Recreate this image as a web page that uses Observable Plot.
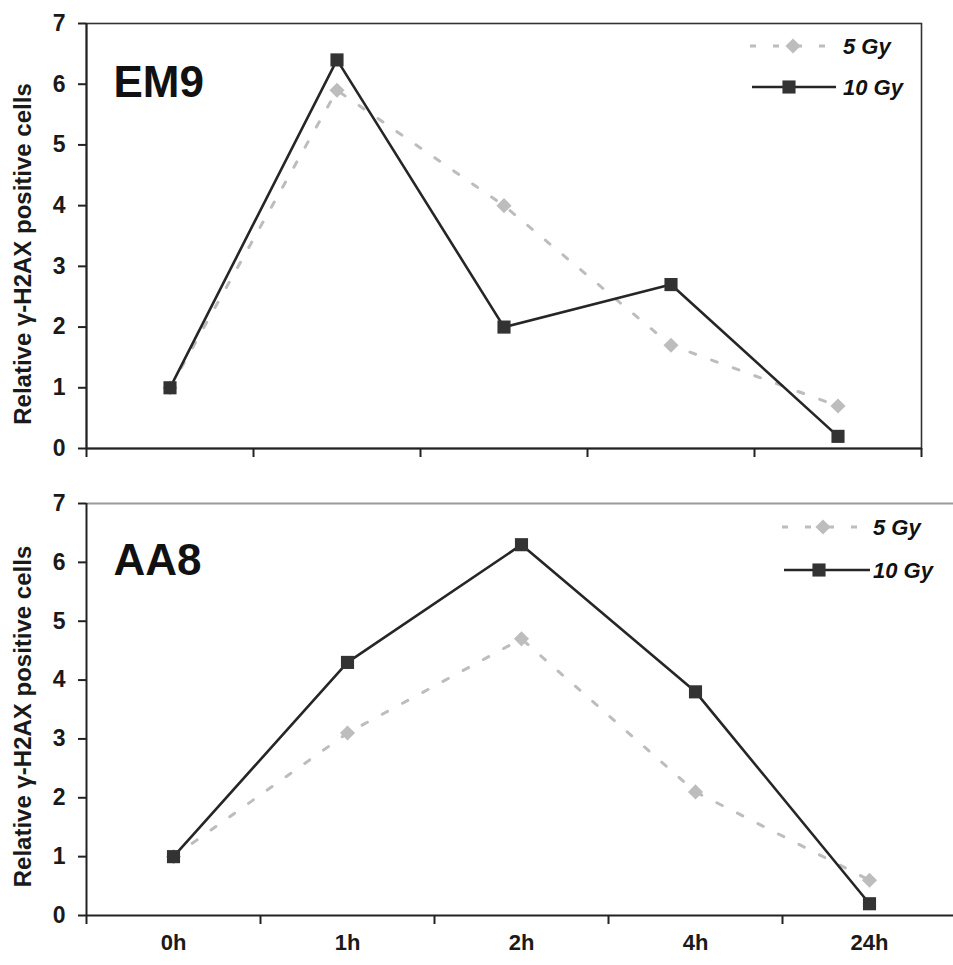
<!DOCTYPE html>
<html>
<head>
<meta charset="utf-8">
<script src="https://cdn.jsdelivr.net/npm/d3@7"></script>
<script src="https://cdn.jsdelivr.net/npm/@observablehq/plot@0.6"></script>
<style>
  html, body { margin: 0; padding: 0; background: #fff; }
  #wrap { position: relative; width: 953px; height: 965px; overflow: hidden; font-family: "Liberation Sans", Arial, sans-serif; }
  .panel { position: absolute; left: 0; }
  .legend { position: absolute; }
</style>
</head>
<body>
<div id="wrap"></div>
<script>
// ---- data ----
const categories = ["0h", "1h", "2h", "4h", "24h"];
const em9_5Gy  = [1.0, 5.9, 4.0, 1.7, 0.7];
const em9_10Gy = [1.0, 6.4, 2.0, 2.7, 0.2];
const aa8_5Gy  = [1.0, 3.1, 4.7, 2.1, 0.6];
const aa8_10Gy = [1.0, 4.3, 6.3, 3.8, 0.2];
const yTicks = [0, 1, 2, 3, 4, 5, 6, 7];
const seriesNames = ["5 Gy", "10 Gy"];
const yLabel = "Relative γ-H2AX positive cells";

const FONT = '"Liberation Sans", Arial, sans-serif';
const C5 = "#bdbdbd", C10 = "#262626";

function rows(vals) { return vals.map((v, i) => ({i, cat: categories[i], v})); }

function panel({title, v5, v10, height, marginTop, marginBottom, marginRight, showLabels, frame, titleDy, labelDy}) {
  const d5 = rows(v5), d10 = rows(v10);
  const nb = categories.length;
  const marks = [];
  if (frame) marks.push(Plot.frame({stroke: "#333", strokeWidth: 1.6}));
  else marks.push(Plot.ruleY([yTicks[yTicks.length - 1]], {stroke: "#9a9a9a", strokeWidth: 2}));
  marks.push(
    Plot.axisY({ticks: yTicks, tickSize: 8, tickPadding: 13, tickFormat: d3.format("d"), fontSize: 23, fontWeight: "bold", label: null, stroke: "#222", strokeWidth: 2, fill: "#1a1a1a"}),
    Plot.axisX({ticks: d3.range(nb + 1), tickSize: 9, tickFormat: () => "", label: null, stroke: "#222", strokeWidth: 2}),
    Plot.ruleY([0], {stroke: "#222", strokeWidth: 2}),
    Plot.ruleX([0], {stroke: "#222", strokeWidth: 2}),
    Plot.line(d5, {x: d => d.i + 0.5, y: "v", stroke: C5, strokeWidth: 3, strokeDasharray: "6,17"}),
    Plot.dot(d5, {x: d => d.i + 0.5, y: "v", symbol: "diamond2", r: 6.8, fill: C5, stroke: "none"}),
    Plot.line(d10, {x: d => d.i + 0.5, y: "v", stroke: C10, strokeWidth: 2.6}),
    Plot.dot(d10, {x: d => d.i + 0.5, y: "v", symbol: "square", r: 7.4, fill: "#333", stroke: "none"}),
    Plot.text([title], {frameAnchor: "top-left", text: d => d, dx: 27, dy: titleDy, fontSize: 44, fontWeight: "bold", fill: "#111"}),
    Plot.text([yLabel], {frameAnchor: "left", textAnchor: "middle", text: d => d, rotate: -90, dx: -63, dy: labelDy, fontSize: 24, fontWeight: "bold", fill: "#1a1a1a", letterSpacing: 0.8})
  );
  if (showLabels) {
    marks.push(Plot.axisX({ticks: categories.map((c, i) => i + 0.5), tickSize: 0, tickPadding: 19,
      tickFormat: t => categories[Math.round(t - 0.5)], fontSize: 22, fontWeight: "bold", label: null, fill: "#1a1a1a"}));
  }
  return Plot.plot({
    width: 953, height, marginLeft: 86, marginRight, marginTop, marginBottom,
    style: {fontFamily: FONT, background: "transparent", color: "#222"},
    x: {domain: [0, nb]},
    y: {domain: [0, yTicks[yTicks.length - 1]]},
    marks
  });
}

function legend(left, top, geo) {
  const svg = d3.create("svg").attr("width", 210).attr("height", 120)
    .attr("class", "legend").style("left", left + "px").style("top", top + "px");
  const g = svg.append("g").attr("font-family", FONT).attr("font-weight", "bold").attr("font-style", "italic").attr("font-size", 22).attr("fill", "#111");
  // 5 Gy
  g.append("line").attr("x1", geo.l0).attr("x2", geo.l1).attr("y1", geo.y0).attr("y2", geo.y0)
    .attr("stroke", C5).attr("stroke-width", 3).attr("stroke-dasharray", "6,17");
  g.append("path").attr("d", d3.symbol(d3.symbolDiamond2, Math.PI * 6.8 * 6.8)()).attr("transform", `translate(${geo.m},${geo.y0})`).attr("fill", C5);
  g.append("text").attr("x", geo.t).attr("y", geo.y0).attr("dy", "0.36em").text(seriesNames[0]);
  // 10 Gy
  g.append("line").attr("x1", geo.l0 + 2).attr("x2", geo.l1 + 8).attr("y1", geo.y1).attr("y2", geo.y1)
    .attr("stroke", C10).attr("stroke-width", 2.6);
  g.append("path").attr("d", d3.symbol(d3.symbolSquare, Math.PI * 7.4 * 7.4)()).attr("transform", `translate(${geo.m - 4},${geo.y1})`).attr("fill", "#333");
  g.append("text").attr("x", geo.t).attr("y", geo.y1).attr("dy", "0.36em").text(seriesNames[1]);
  return svg.node();
}

const wrap = document.getElementById("wrap");

const top1 = panel({title: "EM9", v5: em9_5Gy, v10: em9_10Gy, height: 480, marginTop: 23, marginBottom: 32, marginRight: 32,
  showLabels: false, frame: true, titleDy: 42, labelDy: 18});
top1.classList.add("panel"); top1.style.top = "0px";
wrap.appendChild(top1);

const bot = panel({title: "AA8", v5: aa8_5Gy, v10: aa8_10Gy, height: 485, marginTop: 23, marginBottom: 50, marginRight: -3,
  showLabels: true, frame: false, titleDy: 40, labelDy: 7});
bot.classList.add("panel"); bot.style.top = "480px";
wrap.appendChild(bot);

wrap.appendChild(legend(740, 6, {l0: 10, l1: 88, m: 53, t: 103, y0: 40, y1: 81}));
wrap.appendChild(legend(772, 487, {l0: 10, l1: 90, m: 51, t: 101, y0: 40, y1: 83}));
</script>
</body>
</html>
